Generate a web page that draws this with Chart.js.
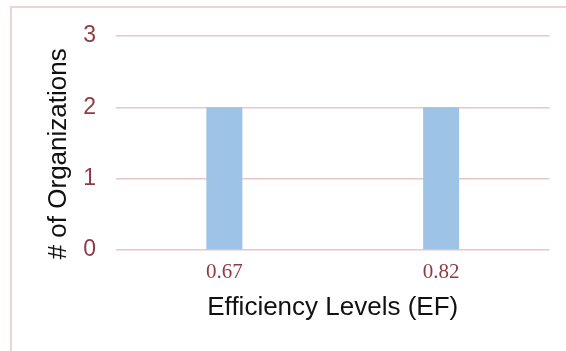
<!DOCTYPE html>
<html>
<head>
<meta charset="utf-8">
<script src="https://cdn.jsdelivr.net/npm/chart.js@4/dist/chart.umd.min.js"></script>
<style>
  html, body { margin: 0; padding: 0; background: #ffffff; }
  #wrap { position: relative; width: 566px; height: 351px; overflow: hidden; }
  #frame {
    position: absolute; left: 10px; top: 6px; width: 600px; height: 400px;
    border-top: 2px solid #EDD3D6; border-left: 2px solid #EDD3D6;
    box-sizing: border-box; pointer-events: none;
  }
  canvas { position: absolute; left: 0; top: 0; }
</style>
</head>
<body>
<div id="wrap">
  <div id="frame"></div>
  <canvas id="chart" width="566" height="351"></canvas>
</div>
<script>
// Efficiency levels and how many organizations sit at each
const efficiencyLevels = ['0.67', '0.82'];
const organizationCounts = [2, 2];
const countTicks = [0, 1, 2, 3];

const maroon = '#8E3B48';
const gridPink = '#E8C6CB';

new Chart(document.getElementById('chart'), {
  type: 'bar',
  data: {
    labels: efficiencyLevels,
    datasets: [{
      data: organizationCounts,
      backgroundColor: '#9DC3E6',
      borderWidth: 0,
      categoryPercentage: 1,
      barPercentage: 0.166
    }]
  },
  options: {
    responsive: false,
    animation: false,
    devicePixelRatio: 1,
    layout: { padding: { left: 0, right: 16.5, top: 36, bottom: 0 } },
    plugins: { legend: { display: false }, tooltip: { enabled: false } },
    scales: {
      x: {
        grid: { display: false, drawTicks: false },
        border: { display: false },
        ticks: {
          color: maroon,
          padding: 10,
          font: { family: '"Liberation Serif", "DejaVu Serif", serif', size: 21 }
        },
        title: {
          display: true,
          text: 'Efficiency Levels (EF)',
          color: '#111111',
          font: { family: '"Liberation Sans", Arial, sans-serif', size: 26 },
          padding: { top: 0, bottom: 28 }
        },
        afterFit: (scale) => { scale.height = 101; }
      },
      y: {
        min: 0,
        max: 3,
        afterBuildTicks: (scale) => { scale.ticks = countTicks.map(v => ({ value: v })); },
        grid: { color: gridPink, lineWidth: 1.5, drawTicks: false },
        border: { display: false },
        ticks: {
          color: maroon,
          padding: 20,
          font: { family: '"Liberation Sans", Arial, sans-serif', size: 23 }
        },
        title: {
          display: true,
          text: '# of Organizations   ',
          color: '#111111',
          font: { family: '"Liberation Sans", Arial, sans-serif', size: 26 },
          padding: { top: 43, bottom: 0 }
        },
        afterFit: (scale) => { scale.width = 116; }
      }
    }
  }
});
</script>
</body>
</html>
